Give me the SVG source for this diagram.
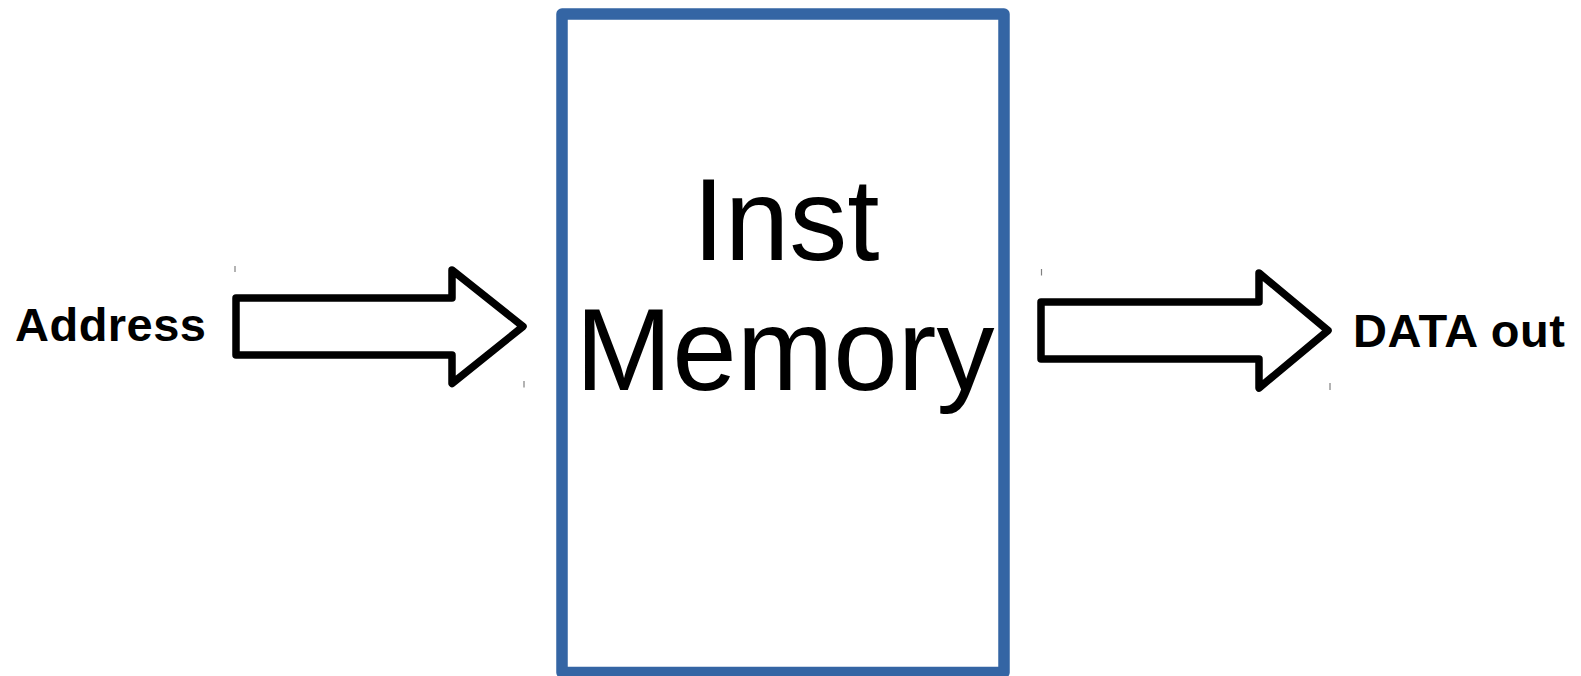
<svg xmlns="http://www.w3.org/2000/svg" width="1581" height="676" viewBox="0 0 1581 676">
  <style>
    .block { fill: #ffffff; stroke: #3465a4; stroke-width: 11.5; stroke-linejoin: round; }
    .big-arrow { fill: #ffffff; stroke: #000000; stroke-width: 7.5; stroke-linejoin: round; }
    .tick { stroke: #808080; stroke-width: 1.2; }
    .title { font-family: "Liberation Sans", Arial, sans-serif; font-size: 116px; fill: #000000; }
    .label { font-family: "Liberation Sans", Arial, sans-serif; font-size: 47px; font-weight: bold; fill: #000000; }
  </style>
  <rect width="1581" height="676" fill="#ffffff"/>

  <g id="inst-memory">
    <rect class="block" x="562" y="14" width="442" height="658.5"/>
    <text class="title" x="786" y="260" text-anchor="middle">Inst</text>
    <text class="title" x="785" y="390" text-anchor="middle">Memory</text>
  </g>

  <g id="address">
    <text class="label" x="15" y="341" textLength="191" lengthAdjust="spacing">Address</text>
  </g>

  <g id="data-out">
    <text class="label" x="1353" y="347" textLength="212" lengthAdjust="spacing">DATA out</text>
  </g>

  <g id="connectors">
    <path class="big-arrow" d="M236,298 L452,298 L452,270 L523,326.5 L452,383.5 L452,355 L236,355 Z"/>
    <line class="tick" x1="235" y1="266" x2="235" y2="272"/>
    <line class="tick" x1="524" y1="381" x2="524" y2="387.5"/>

    <path class="big-arrow" d="M1041,302 L1259,302 L1259,273 L1328,330.5 L1259,388 L1259,359 L1041,359 Z"/>
    <line class="tick" x1="1041.5" y1="269" x2="1041.5" y2="275.5"/>
    <line class="tick" x1="1330" y1="383" x2="1330" y2="390"/>
  </g>
</svg>
